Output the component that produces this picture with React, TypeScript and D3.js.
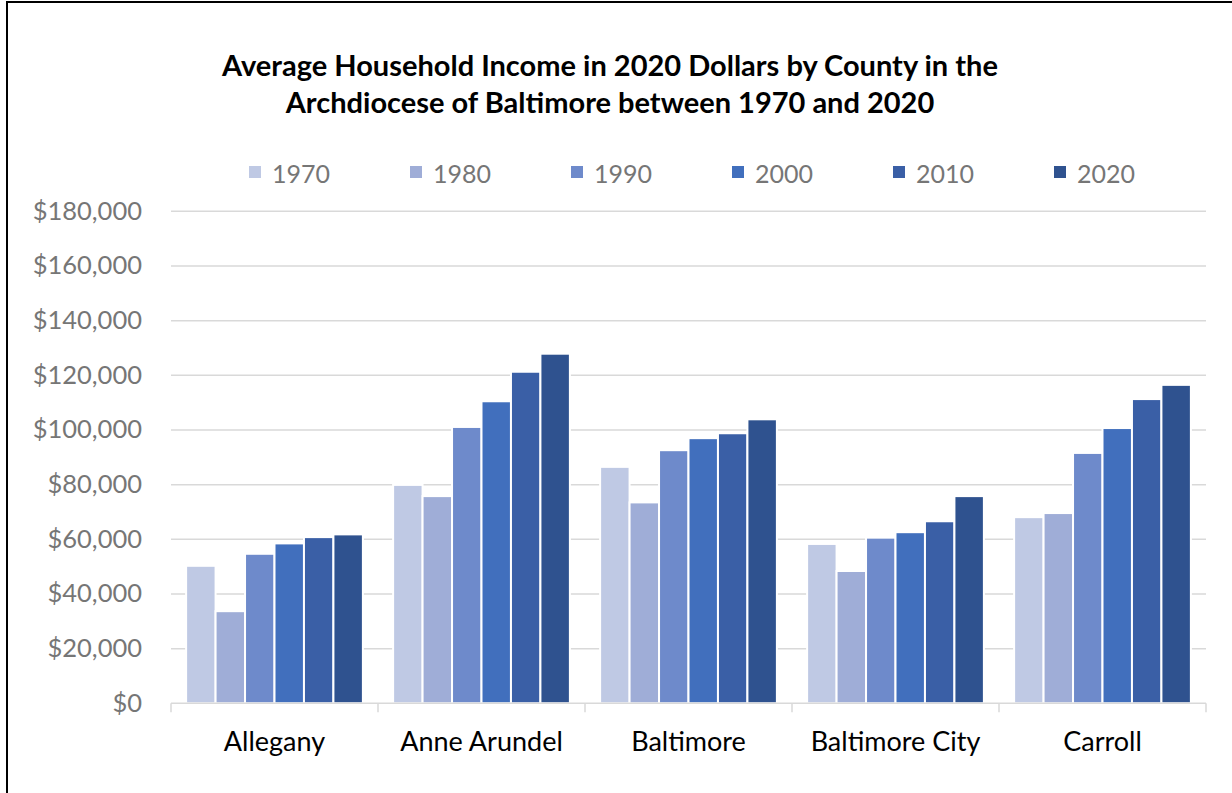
import React from 'react';
import * as d3 from 'd3';

const counties = ['Allegany', 'Anne Arundel', 'Baltimore', 'Baltimore City', 'Carroll'];
const years = ['1970', '1980', '1990', '2000', '2010', '2020'];

// one array per year, values in counties order
const income1970 = [50300, 79900, 86500, 58300, 68100];
const income1980 = [33700, 75800, 73500, 48400, 69600];
const income1990 = [54700, 101100, 92600, 60600, 91600];
const income2000 = [58500, 110500, 97000, 62600, 100700];
const income2010 = [60800, 121300, 98800, 66600, 111300];
const income2020 = [61800, 127900, 103900, 75800, 116500];

const seriesValues = [income1970, income1980, income1990, income2000, income2010, income2020];
const yTicks = [0, 20000, 40000, 60000, 80000, 100000, 120000, 140000, 160000, 180000];

const colors = ['#bfc9e4', '#9fadd7', '#6e8acb', '#416fbd', '#3a5fa6', '#2f528f'];

const W = 1232, H = 793;
const left = 171, right = 1206, top = 211.3, bottom = 703.3;

const App = () => {
  const x0 = d3.scaleBand<string>().domain(counties).range([left, right]).padding(0);
  const bw = x0.bandwidth();
  const x1 = d3.scaleBand<string>().domain(years).range([bw * 0.073, bw * 0.927]).padding(0);
  const y = d3.scaleLinear().domain([0, 180000]).range([bottom, top]);
  const fmt = (v: number) => '$' + d3.format(',')(v);

  const boundaries = [...counties.map(c => x0(c) as number), right];

  return (
    <svg width={W} height={H} style={{ position: 'absolute', left: 0, top: 0, background: '#fff' }}
      fontFamily="Lato, 'Open Sans', sans-serif">
      <rect x={0} y={0} width={W} height={H} fill="#fff" />
      <line x1={7} y1={2} x2={W} y2={2} stroke="#000" strokeWidth={2} />
      <line x1={7} y1={1} x2={7} y2={H} stroke="#000" strokeWidth={2} />

      <text x={610} y={76} textAnchor="middle" fontSize={29} fontWeight="bold" fill="#000">
        Average Household Income in 2020 Dollars by County in the
      </text>
      <text x={610} y={113} textAnchor="middle" fontSize={29} fontWeight="bold" fill="#000">
        Archdiocese of Baltimore between 1970 and 2020
      </text>

      {years.map((yr, i) => (
        <g key={yr} transform={`translate(${249 + i * 161},0)`}>
          <rect x={0} y={166} width={12} height={12} fill={colors[i]} />
          <text x={23} y={183} fontSize={25} fill="#767676">{yr}</text>
        </g>
      ))}

      {yTicks.map(t => (
        <g key={t}>
          {t > 0 && <line x1={left} x2={right} y1={y(t)} y2={y(t)} stroke="#d9d9d9" strokeWidth={1.5} />}
          <text x={142} y={y(t) + 8.5} textAnchor="end" fontSize={25.5} fill="#767676">{fmt(t)}</text>
        </g>
      ))}

      {counties.map((c, ci) => (
        <g key={c} transform={`translate(${x0(c)},0)`}>
          {years.map((yr, si) => (
            <rect key={yr}
              x={x1(yr)}
              y={y(seriesValues[si][ci])}
              width={x1.bandwidth()}
              height={bottom - y(seriesValues[si][ci])}
              fill={colors[si]}
              stroke="#fff"
              strokeWidth={2}
            />
          ))}
        </g>
      ))}

      <line x1={left} x2={right} y1={bottom} y2={bottom} stroke="#d9d9d9" strokeWidth={1.5} />
      {boundaries.map((b, i) => (
        <line key={i} x1={b} x2={b} y1={bottom} y2={bottom + 9} stroke="#d9d9d9" strokeWidth={1.5} />
      ))}

      {counties.map(c => (
        <text key={c} x={(x0(c) as number) + bw / 2} y={751} textAnchor="middle" fontSize={27} fill="#000">
          {c}
        </text>
      ))}
    </svg>
  );
};

export default App;
